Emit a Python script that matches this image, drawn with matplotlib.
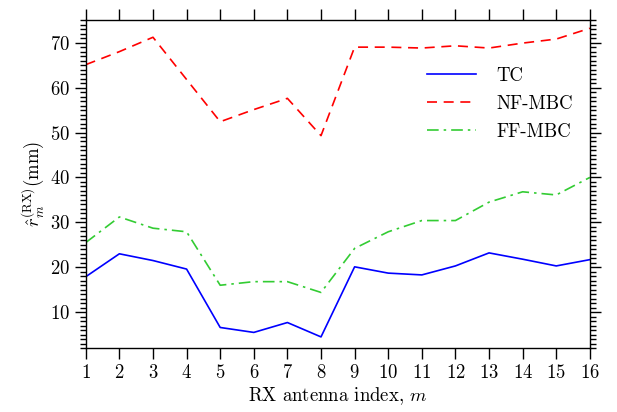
import matplotlib
matplotlib.use('Agg')
import matplotlib.pyplot as plt
from matplotlib.ticker import MultipleLocator

plt.rcParams['font.family'] = 'serif'
plt.rcParams['font.serif'] = ['cmr10']
plt.rcParams['mathtext.fontset'] = 'cm'
plt.rcParams['axes.formatter.use_mathtext'] = True

# antenna index and estimated radius per method (mm)
antenna = list(range(1, 17))
tc = [17.9, 23.0, 21.5, 19.6, 6.6, 5.5, 7.7, 4.5, 20.1, 18.7, 18.3, 20.3, 23.2, 21.8, 20.3, 21.7]
nf_mbc = [65.1, 68.0, 71.2, 61.8, 52.4, 55.1, 57.6, 49.3, 69.0, 69.0, 68.8, 69.3, 68.8, 69.9, 70.8, 73.2]
ff_mbc = [25.5, 31.2, 28.7, 27.9, 16.0, 16.8, 16.8, 14.4, 24.2, 27.9, 30.4, 30.4, 34.5, 36.8, 36.1, 40.0]

fig = plt.figure(figsize=(6.17, 4.12), dpi=100)
ax = fig.add_axes([0.139, 0.155, 0.817, 0.796])

ax.plot(antenna, tc, color='#0000ff', lw=1.2, label='TC')
ax.plot(antenna, nf_mbc, color='#ff0000', lw=1.2, dashes=(6, 4), label='NF-MBC')
ax.plot(antenna, ff_mbc, color='#33cc33', lw=1.2, dashes=(7, 3, 1.5, 3), label='FF-MBC')

ax.set_xlim(1, 16)
ax.set_ylim(2, 75)
ax.set_xticks(antenna)
ax.yaxis.set_major_locator(MultipleLocator(10))
ax.yaxis.set_minor_locator(MultipleLocator(1))

ax.tick_params(axis='both', which='major', direction='out', length=8, width=1,
               labelsize=13.5, top=True, right=True)
ax.tick_params(axis='y', which='minor', direction='out', length=4.5, width=1, right=True)
ax.tick_params(axis='x', which='minor', bottom=False, top=False)
for s in ax.spines.values():
    s.set_linewidth(1.0)

ax.set_xlabel('RX antenna index, $m$', fontsize=13.5, labelpad=2)
ax.set_ylabel(r'$\hat{r}_m^{(\mathrm{RX})}$(mm)', fontsize=13.5, labelpad=3)

ax.legend(loc='upper right', bbox_to_anchor=(1.0, 0.91), frameon=False,
          fontsize=13.5, handlelength=2.6, labelspacing=0.55, handletextpad=1.1)

fig.savefig('out.png', dpi=100)
